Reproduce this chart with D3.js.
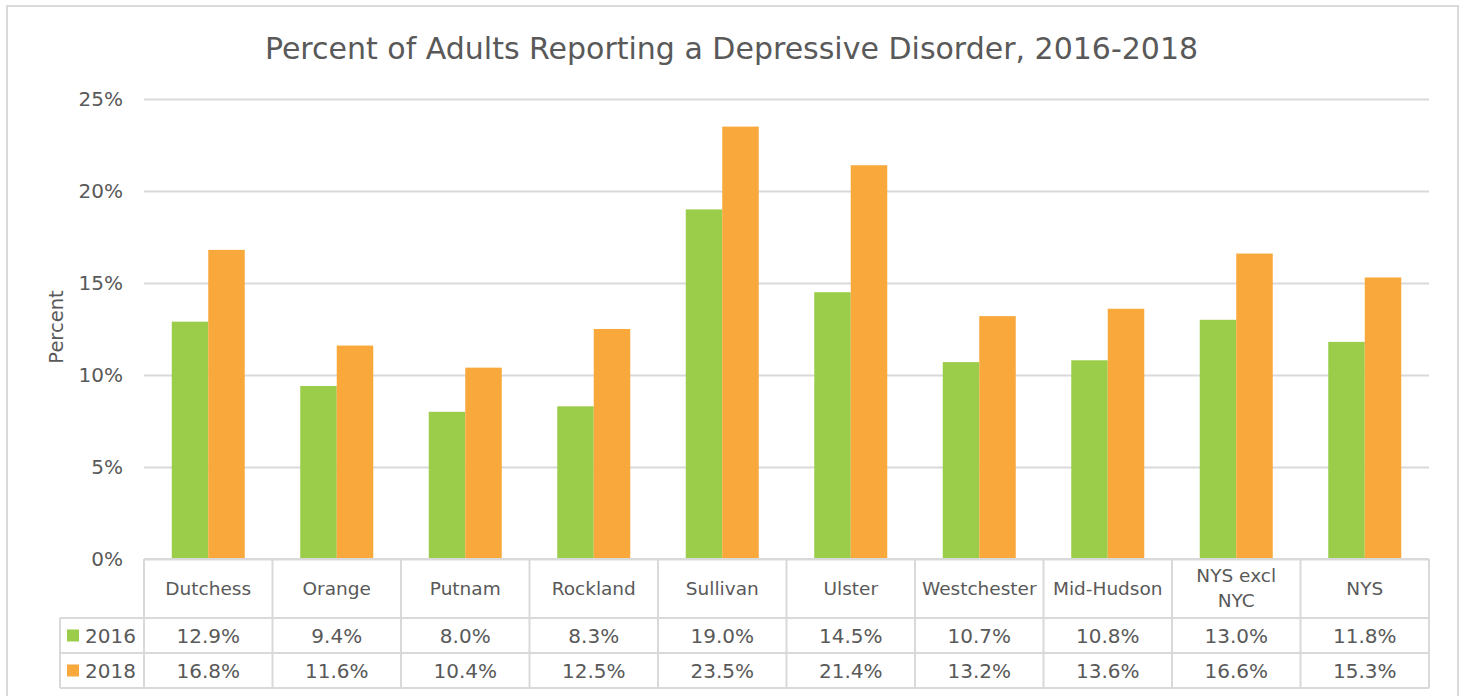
<!DOCTYPE html>
<html>
<head>
<meta charset="utf-8">
<script src="https://cdn.jsdelivr.net/npm/d3@7"></script>
<style>
  html, body { margin: 0; padding: 0; background: #fff; }
  svg { display: block; }
  text { font-family: "DejaVu Sans", sans-serif; fill: #595959; }
</style>
</head>
<body>
<svg id="chart" width="1463" height="696"></svg>
<script>
const title = "Percent of Adults Reporting a Depressive Disorder, 2016-2018";
const categories = ["Dutchess", "Orange", "Putnam", "Rockland", "Sullivan", "Ulster", "Westchester", "Mid-Hudson", "NYS excl NYC", "NYS"];
const categoryLines = [["Dutchess"], ["Orange"], ["Putnam"], ["Rockland"], ["Sullivan"], ["Ulster"], ["Westchester"], ["Mid-Hudson"], ["NYS excl", "NYC"], ["NYS"]];
const values2016 = [12.9, 9.4, 8.0, 8.3, 19.0, 14.5, 10.7, 10.8, 13.0, 11.8];
const values2018 = [16.8, 11.6, 10.4, 12.5, 23.5, 21.4, 13.2, 13.6, 16.6, 15.3];
const seriesNames = ["2016", "2018"];
const seriesColors = ["#9bcd4b", "#f9a83b"];
const yTicks = [0, 5, 10, 15, 20, 25];
const yLabel = "Percent";

const svg = d3.select("#chart");
const gridColor = "#d9d9d9";

// outer border
svg.append("rect").attr("x", 7).attr("y", 6).attr("width", 1451).attr("height", 700)
  .attr("fill", "none").attr("stroke", gridColor).attr("stroke-width", 2);

const pL = 144, pR = 1429, pT = 99, pB = 559;
const x = d3.scaleBand().domain(categories).range([pL, pR]).paddingInner(0).paddingOuter(0);
const y = d3.scaleLinear().domain([0, 25]).range([pB, pT]);
const barW = 36.5;
const series = [values2016, values2018];

// title
svg.append("text").attr("x", 731.5).attr("y", 59)
  .attr("text-anchor", "middle").style("font-size", "30px").text(title);

// gridlines
const yAxis = d3.axisLeft(y).tickValues(yTicks).tickSize(-(pR - pL)).tickFormat(d => d + "%");
const gy = svg.append("g").attr("transform", `translate(${pL},0)`).call(yAxis);
gy.select(".domain").remove();
gy.selectAll(".tick line").attr("stroke", gridColor).attr("stroke-width", 2);
gy.selectAll(".tick text").attr("x", -21).style("font-size", "20px").style("font-family", "DejaVu Sans, sans-serif").attr("fill", "#595959");

// y label
svg.append("text").attr("transform", `translate(63,${(pT + pB) / 2 - 2}) rotate(-90)`)
  .attr("text-anchor", "middle").style("font-size", "19.5px").text(yLabel);

// bars
series.forEach((vals, si) => {
  svg.append("g").selectAll("rect").data(vals).join("rect")
    .attr("x", (d, i) => x(categories[i]) + x.bandwidth() / 2 - barW + si * barW)
    .attr("y", d => y(d))
    .attr("width", barW)
    .attr("height", d => y(0) - y(d))
    .attr("fill", seriesColors[si]);
});

// data table
const rowTop = pB, headerBottom = 618, row1Bottom = 653, row2Bottom = 688;
const legLeft = 60;
const tbl = svg.append("g").attr("stroke", gridColor).attr("stroke-width", 2);
tbl.append("line").attr("x1", pL).attr("x2", pR).attr("y1", rowTop).attr("y2", rowTop);
[headerBottom, row1Bottom, row2Bottom].forEach(yy => {
  tbl.append("line").attr("x1", legLeft).attr("x2", pR).attr("y1", yy).attr("y2", yy);
});
categories.forEach(c => {
  tbl.append("line").attr("x1", x(c)).attr("x2", x(c)).attr("y1", rowTop).attr("y2", row2Bottom);
});
tbl.append("line").attr("x1", pR).attr("x2", pR).attr("y1", rowTop).attr("y2", row2Bottom);
tbl.append("line").attr("x1", legLeft).attr("x2", legLeft).attr("y1", headerBottom).attr("y2", row2Bottom);

// category labels
categories.forEach((c, i) => {
  const lines = categoryLines[i];
  const cy = (rowTop + headerBottom) / 2;
  const lh = 25;
  lines.forEach((ln, k) => {
    svg.append("text").attr("x", x(c) + x.bandwidth() / 2)
      .attr("y", cy + (k - (lines.length - 1) / 2) * lh)
      .attr("dy", "0.35em").attr("text-anchor", "middle").style("font-size", "18.5px").text(ln);
  });
});

// value rows
const rowCenters = [(headerBottom + row1Bottom) / 2, (row1Bottom + row2Bottom) / 2];
series.forEach((vals, si) => {
  const cy = rowCenters[si];
  svg.append("rect").attr("x", 67).attr("y", cy - 6).attr("width", 12).attr("height", 12).attr("fill", seriesColors[si]);
  svg.append("text").attr("x", 85).attr("y", cy).attr("dy", "0.35em").style("font-size", "20px").text(seriesNames[si]);
  vals.forEach((v, i) => {
    svg.append("text").attr("x", x(categories[i]) + x.bandwidth() / 2).attr("y", cy)
      .attr("dy", "0.35em").attr("text-anchor", "middle").style("font-size", "20px").text(v.toFixed(1) + "%");
  });
});
</script>
</body>
</html>
